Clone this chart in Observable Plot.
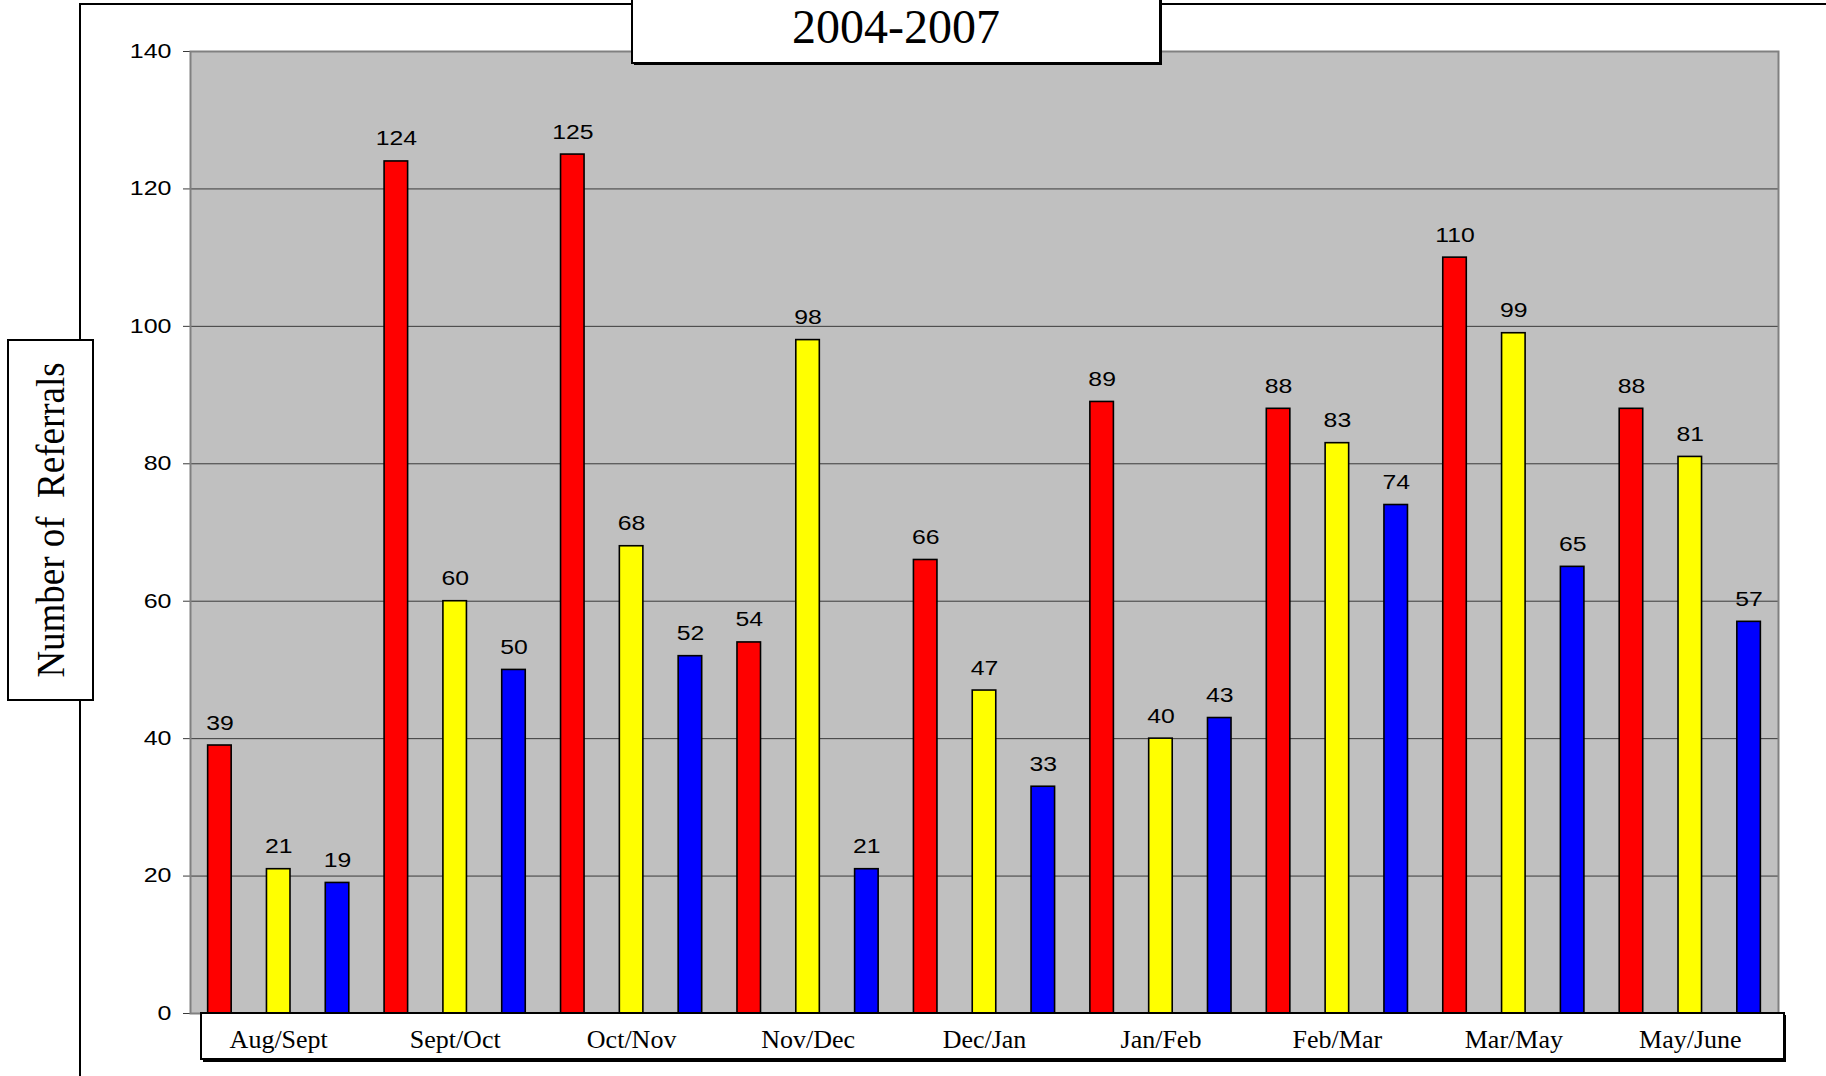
<!DOCTYPE html>
<html>
<head>
<meta charset="utf-8">
<script src="https://cdn.jsdelivr.net/npm/d3@7"></script>
<script src="https://cdn.jsdelivr.net/npm/@observablehq/plot@0.6"></script>
<style>
  html, body { margin: 0; padding: 0; background: #fff; overflow: hidden; }
  #chart svg { display: block; }
</style>
</head>
<body>
<div id="chart"></div>
<script>
// ---- data ----
const groups = ["Aug/Sept", "Sept/Oct", "Oct/Nov", "Nov/Dec", "Dec/Jan", "Jan/Feb", "Feb/Mar", "Mar/May", "May/June"];
const series = ["2004-2005", "2005-2006", "2006-2007"];
const seriesColors = ["#ff0000", "#ffff00", "#0000ff"];
const redValues    = [39, 124, 125, 54, 66, 89, 88, 110, 88];
const yellowValues = [21, 60, 68, 98, 47, 40, 83, 99, 81];
const blueValues   = [19, 50, 52, 21, 33, 43, 74, 65, 57];
const yTicks = [0, 20, 40, 60, 80, 100, 120, 140];
const titleText = "2004-2007";
const yLabelText = "Number of  Referrals";

const seriesValues = [redValues, yellowValues, blueValues];
const keyOf = (g, s) => g + "|" + s;
const data = groups.flatMap((g, i) =>
  series.map((s, j) => ({ group: g, series: s, key: keyOf(g, s), value: seriesValues[j][i] }))
);
const keys = data.map(d => d.key);

const W = 1826, H = 1076;
const plot = Plot.plot({
  width: W,
  height: H,
  marginLeft: 190,
  marginRight: 48,
  marginTop: 51,
  marginBottom: 63,
  style: { fontFamily: "'Liberation Sans', Arial, sans-serif", background: "#fff", overflow: "visible" },
  x: { type: "band", domain: keys, paddingInner: 0.6, paddingOuter: 0.3, round: false, axis: null },
  y: { domain: [0, 140], ticks: yTicks, axis: null },
  color: { domain: series, range: seriesColors },
  marks: [
    Plot.frame({ fill: "#c0c0c0", stroke: null }),
    Plot.gridY(yTicks, { stroke: "#3a3a3a", strokeOpacity: 1, strokeWidth: 1 }),
    Plot.axisY(yTicks, { tickSize: 7, tickPadding: 12, fontSize: 20, stroke: "#3a3a3a", fill: "#000", label: null }),
    Plot.barY(data, { x: "key", y: "value", fill: "series", stroke: "#000", strokeWidth: 1.6 }),
    Plot.text(data, { x: "key", y: "value", text: d => String(d.value), dy: -16, lineAnchor: "bottom", fontSize: 21, fill: "#000" }),
    Plot.frame({ stroke: "#808080", strokeWidth: 2, fill: null }),
    Plot.text(groups, { x: g => keyOf(g, series[1]), frameAnchor: "bottom", dy: 34, lineAnchor: "bottom",
      text: g => g, fontSize: 26, fontFamily: "'Liberation Serif', 'Times New Roman', serif", fill: "#000" })
  ]
});

document.getElementById("chart").appendChild(plot);

const svg = d3.select(plot);

// widen sans-serif texts slightly, as in the reference (horizontally stretched glyphs)
function stretch(sel, s) {
  sel.each(function () {
    const t = d3.select(this);
    const tr = t.attr("transform");
    if (tr) {
      t.attr("transform", tr + ` scale(${s},1)`);
    } else {
      const x = +t.attr("x") || 0, y = +t.attr("y") || 0;
      t.attr("x", null).attr("y", null).attr("transform", `translate(${x},${y}) scale(${s},1)`);
    }
  });
}
stretch(svg.selectAll("g[aria-label='y-axis tick label'] text"), 1.25);
const textGroups = svg.selectAll("g[aria-label='text']").nodes();
if (textGroups.length) stretch(d3.select(textGroups[0]).selectAll("text"), 1.18);

// outer frame (behind everything)
const frameG = svg.insert("g", ":first-child");
frameG.append("path").attr("d", `M80,${H} L80,4 L${W},4`).attr("fill", "none").attr("stroke", "#000").attr("stroke-width", 2);

// x-label box, inserted just before the x label text group
const labelsNode = plot.lastElementChild;
const boxG = svg.insert("g", () => labelsNode);
boxG.append("rect").attr("x", 203).attr("y", 1015).attr("width", 1583).attr("height", 47).attr("fill", "#000");
boxG.append("rect").attr("x", 201).attr("y", 1013).attr("width", 1583).attr("height", 46)
  .attr("fill", "#fff").attr("stroke", "#000").attr("stroke-width", 2);

// title box
const tG = svg.append("g");
tG.append("rect").attr("x", 634).attr("y", -10).attr("width", 528).attr("height", 75).attr("fill", "#000");
tG.append("rect").attr("x", 632).attr("y", -10).attr("width", 528).attr("height", 73)
  .attr("fill", "#fff").attr("stroke", "#000").attr("stroke-width", 2);
tG.append("text").attr("x", 896).attr("y", 43).attr("text-anchor", "middle")
  .attr("font-family", "'Liberation Serif', 'Times New Roman', serif").attr("font-size", 48).attr("fill", "#000")
  .text(titleText);

// y-axis label box
const yG = svg.append("g");
yG.append("rect").attr("x", 8).attr("y", 340).attr("width", 85).attr("height", 360)
  .attr("fill", "#fff").attr("stroke", "#000").attr("stroke-width", 2);
yG.append("text").attr("transform", "translate(64,520) scale(1.1,1) rotate(-90)").attr("text-anchor", "middle")
  .attr("font-family", "'Liberation Serif', 'Times New Roman', serif").attr("font-size", 37).attr("fill", "#000")
  .attr("xml:space", "preserve").style("white-space", "pre")
  .text(yLabelText);
</script>
</body>
</html>
